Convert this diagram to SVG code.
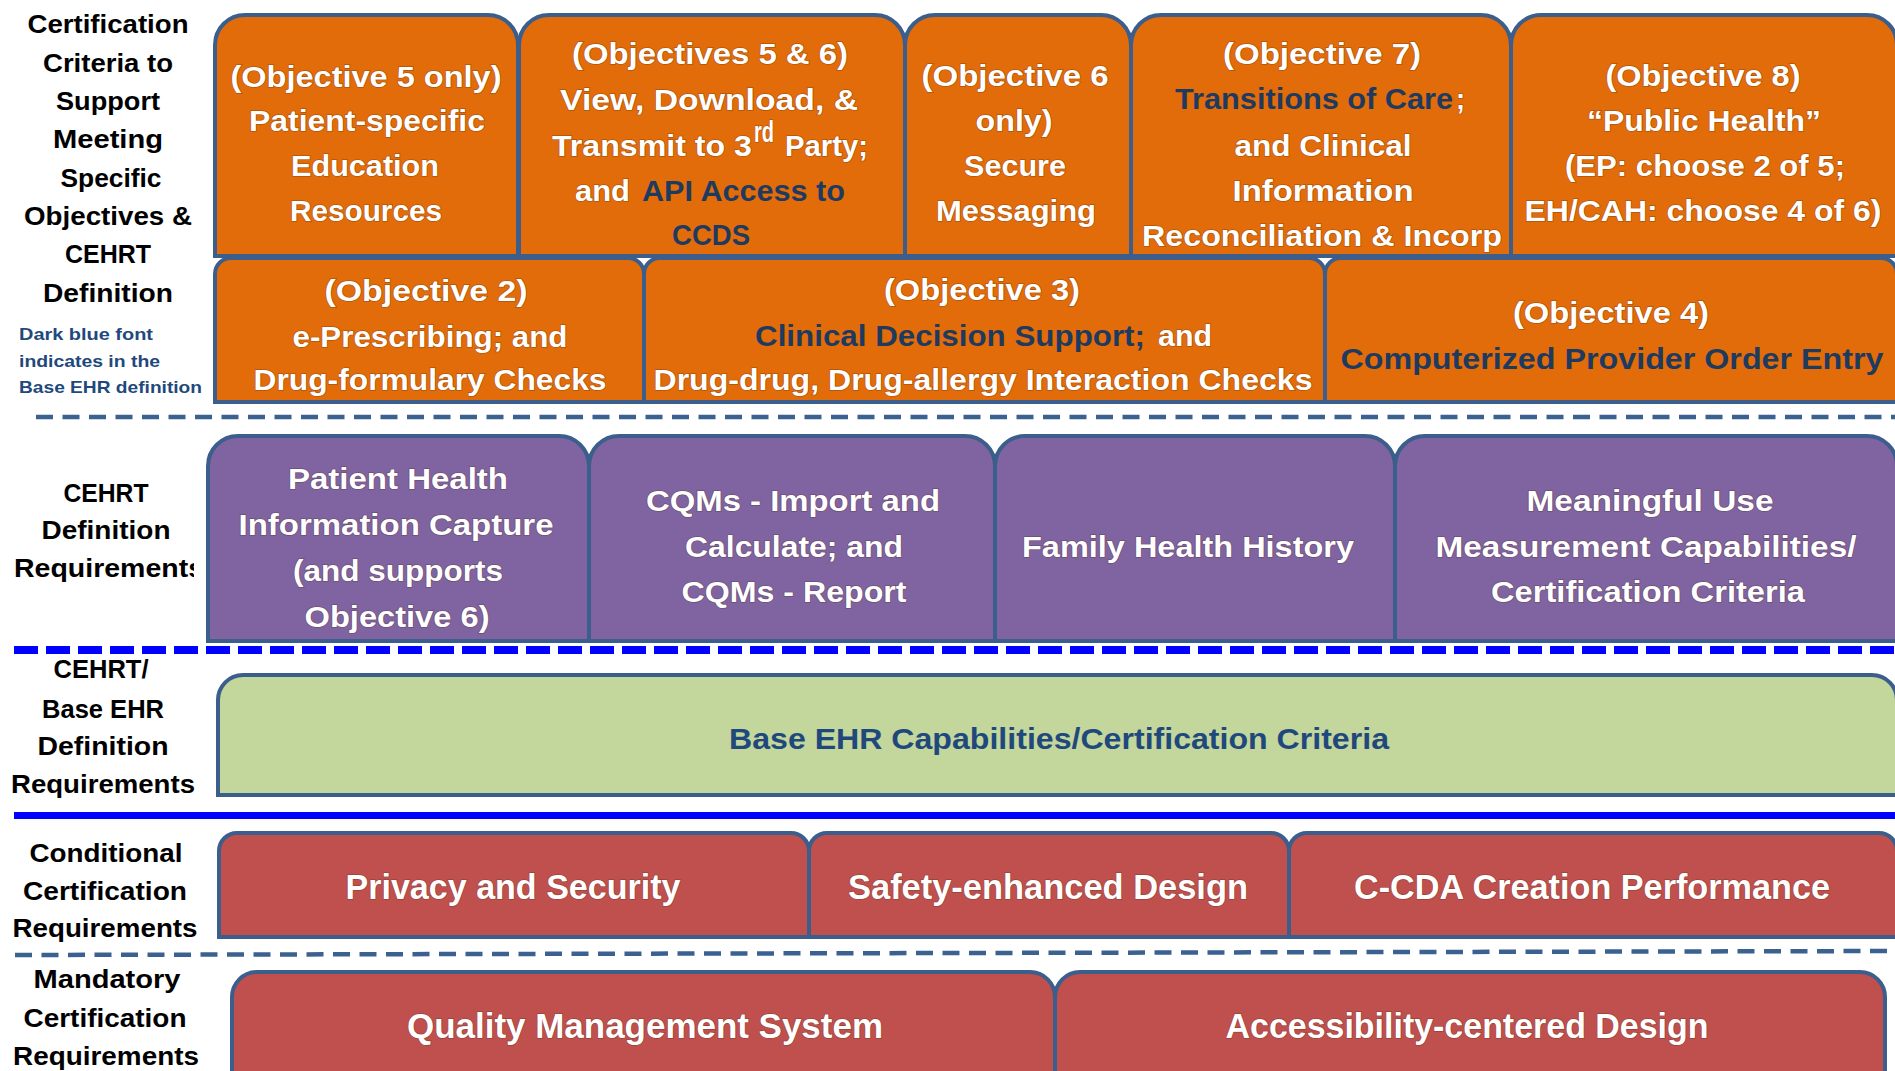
<svg xmlns="http://www.w3.org/2000/svg" width="1895" height="1071" viewBox="0 0 1895 1071">
<style>
text{font-family:"Liberation Sans",Arial,sans-serif;font-weight:bold}
.lbl{font-size:26px;fill:#000;text-anchor:middle}
.note{font-size:17px;fill:#1f497d}
.bt{font-size:29px;fill:#fff;text-anchor:middle;paint-order:stroke;stroke:#4a2a10;stroke-opacity:.35;stroke-width:1.5}
.st{text-anchor:start}
.dk{fill:#1f3a5f;stroke:none}
.big{font-size:35px}
.box{stroke:#3b5e8c;stroke-width:4}
.or{fill:#e36c0a}.pu{fill:#8064a2}.gr{fill:#c3d69b}.rd{fill:#c0504d}
.sep{fill:none}
</style>
<defs>
<clipPath id="clipReq"><rect x="0" y="540" width="194" height="60"/></clipPath>
</defs>
<rect width="1895" height="1071" fill="#fff"/>

<g id="separators">
<line class="sep" x1="36" y1="417" x2="1895" y2="417" stroke="#3a6190" stroke-width="4.5" stroke-dasharray="17 9.5"/>
<line class="sep" x1="14" y1="650" x2="1895" y2="650" stroke="#0000ff" stroke-width="8" stroke-dasharray="24 8"/>
<line class="sep" x1="14" y1="815.5" x2="1895" y2="815.5" stroke="#0000ff" stroke-width="7"/>
<line class="sep" x1="15" y1="955" x2="1895" y2="951" stroke="#3a6190" stroke-width="4.5" stroke-dasharray="17 9.5"/>
</g>

<g id="labels">
<g id="label-objectives">
<text class="lbl" x="108" y="33" textLength="161" lengthAdjust="spacingAndGlyphs">Certification</text>
<text class="lbl" x="108" y="72" textLength="130" lengthAdjust="spacingAndGlyphs">Criteria to</text>
<text class="lbl" x="108" y="110" textLength="104" lengthAdjust="spacingAndGlyphs">Support</text>
<text class="lbl" x="108" y="148" textLength="110" lengthAdjust="spacingAndGlyphs">Meeting</text>
<text class="lbl" x="111" y="187" textLength="101" lengthAdjust="spacingAndGlyphs">Specific</text>
<text class="lbl" x="108" y="225" textLength="168" lengthAdjust="spacingAndGlyphs">Objectives &amp;</text>
<text class="lbl" x="108" y="263" textLength="86" lengthAdjust="spacingAndGlyphs">CEHRT</text>
<text class="lbl" x="108" y="302" textLength="130" lengthAdjust="spacingAndGlyphs">Definition</text>
<text class="note" x="19" y="340" textLength="134" lengthAdjust="spacingAndGlyphs">Dark blue font</text>
<text class="note" x="19" y="367" textLength="141" lengthAdjust="spacingAndGlyphs">indicates in the</text>
<text class="note" x="19" y="393" textLength="183" lengthAdjust="spacingAndGlyphs">Base EHR definition</text>
</g>
<g id="label-cehrt">
<text class="lbl" x="106" y="502" textLength="85" lengthAdjust="spacingAndGlyphs">CEHRT</text>
<text class="lbl" x="106" y="539" textLength="129" lengthAdjust="spacingAndGlyphs">Definition</text>
<text class="lbl" x="109" y="577" textLength="190" lengthAdjust="spacingAndGlyphs" clip-path="url(#clipReq)">Requirements</text>
</g>
<g id="label-base">
<text class="lbl" x="101" y="678" textLength="95" lengthAdjust="spacingAndGlyphs">CEHRT/</text>
<text class="lbl" x="103" y="718" textLength="122" lengthAdjust="spacingAndGlyphs">Base EHR</text>
<text class="lbl" x="103" y="755" textLength="131" lengthAdjust="spacingAndGlyphs">Definition</text>
<text class="lbl" x="103" y="793" textLength="184" lengthAdjust="spacingAndGlyphs">Requirements</text>
</g>
<g id="label-conditional">
<text class="lbl" x="106" y="862" textLength="153" lengthAdjust="spacingAndGlyphs">Conditional</text>
<text class="lbl" x="105" y="900" textLength="164" lengthAdjust="spacingAndGlyphs">Certification</text>
<text class="lbl" x="105" y="937" textLength="185" lengthAdjust="spacingAndGlyphs">Requirements</text>
</g>
<g id="label-mandatory">
<text class="lbl" x="107" y="988" textLength="147" lengthAdjust="spacingAndGlyphs">Mandatory</text>
<text class="lbl" x="105" y="1027" textLength="163" lengthAdjust="spacingAndGlyphs">Certification</text>
<text class="lbl" x="106" y="1065" textLength="186" lengthAdjust="spacingAndGlyphs">Requirements</text>
</g>
</g>

<g id="node-obj5">
<path class="box or" d="M215,256 V45 A30 30 0 0 1 245,15 H488 A30 30 0 0 1 518,45 V256 Z"/>
<text class="bt" x="366" y="87" textLength="271" lengthAdjust="spacingAndGlyphs">(Objective 5 only)</text>
<text class="bt" x="367" y="131" textLength="236" lengthAdjust="spacingAndGlyphs">Patient-specific</text>
<text class="bt" x="365" y="176" textLength="148" lengthAdjust="spacingAndGlyphs">Education</text>
<text class="bt" x="366" y="221" textLength="152" lengthAdjust="spacingAndGlyphs">Resources</text>
</g>
<g id="node-obj56">
<path class="box or" d="M519,256 V45 A30 30 0 0 1 549,15 H875 A30 30 0 0 1 905,45 V256 Z"/>
<text class="bt" x="710" y="64" textLength="276" lengthAdjust="spacingAndGlyphs">(Objectives 5 &amp; 6)</text>
<text class="bt" x="709" y="110" textLength="298" lengthAdjust="spacingAndGlyphs">View, Download,  &amp;</text>
<text class="bt st" x="552" y="156" textLength="200" lengthAdjust="spacingAndGlyphs">Transmit  to 3</text>
<text class="bt st" x="754" y="142" font-size="17" textLength="20" lengthAdjust="spacingAndGlyphs">rd</text>
<text class="bt st" x="785" y="156" textLength="83" lengthAdjust="spacingAndGlyphs">Party;</text>
<text class="bt st" x="575" y="201" textLength="55" lengthAdjust="spacingAndGlyphs">and</text>
<text class="bt st dk" x="642" y="201" textLength="203" lengthAdjust="spacingAndGlyphs">API Access to</text>
<text class="bt dk" x="711" y="245" textLength="78" lengthAdjust="spacingAndGlyphs">CCDS</text>
</g>
<g id="node-obj6">
<path class="box or" d="M905,256 V45 A30 30 0 0 1 935,15 H1101 A30 30 0 0 1 1131,45 V256 Z"/>
<text class="bt" x="1015" y="86" textLength="187" lengthAdjust="spacingAndGlyphs">(Objective 6</text>
<text class="bt" x="1014" y="131" textLength="77" lengthAdjust="spacingAndGlyphs">only)</text>
<text class="bt" x="1015" y="176" textLength="102" lengthAdjust="spacingAndGlyphs">Secure</text>
<text class="bt" x="1016" y="221" textLength="160" lengthAdjust="spacingAndGlyphs">Messaging</text>
</g>
<g id="node-obj7">
<path class="box or" d="M1131,256 V45 A30 30 0 0 1 1161,15 H1481 A30 30 0 0 1 1511,45 V256 Z"/>
<text class="bt" x="1322" y="64" textLength="198" lengthAdjust="spacingAndGlyphs">(Objective 7)</text>
<text class="bt st dk" x="1175" y="109" textLength="278" lengthAdjust="spacingAndGlyphs">Transitions  of Care</text>
<text class="bt st" x="1456" y="109" textLength="9" lengthAdjust="spacingAndGlyphs">;</text>
<text class="bt" x="1323" y="156" textLength="177" lengthAdjust="spacingAndGlyphs">and Clinical</text>
<text class="bt" x="1323" y="201" textLength="181" lengthAdjust="spacingAndGlyphs">Information</text>
<text class="bt" x="1322" y="246" textLength="360" lengthAdjust="spacingAndGlyphs">Reconciliation &amp; Incorp</text>
</g>
<g id="node-obj8">
<path class="box or" d="M1511,256 V45 A30 30 0 0 1 1541,15 H1867 A30 30 0 0 1 1897,45 V256 Z"/>
<text class="bt" x="1703" y="86" textLength="195" lengthAdjust="spacingAndGlyphs">(Objective 8)</text>
<text class="bt" x="1704" y="131" textLength="234" lengthAdjust="spacingAndGlyphs">“Public Health”</text>
<text class="bt" x="1705" y="176" textLength="280" lengthAdjust="spacingAndGlyphs">(EP: choose  2 of 5;</text>
<text class="bt" x="1703" y="221" textLength="357" lengthAdjust="spacingAndGlyphs">EH/CAH:  choose 4 of 6)</text>
</g>

<g id="node-obj2">
<path class="box or" d="M215,402 V274 A16 16 0 0 1 231,258 H628 A16 16 0 0 1 644,274 V402 Z"/>
<text class="bt" x="426" y="301" textLength="203" lengthAdjust="spacingAndGlyphs">(Objective 2)</text>
<text class="bt" x="430" y="347" textLength="275" lengthAdjust="spacingAndGlyphs">e-Prescribing; and</text>
<text class="bt" x="430" y="390" textLength="353" lengthAdjust="spacingAndGlyphs">Drug-formulary  Checks</text>
</g>
<g id="node-obj3">
<path class="box or" d="M644,402 V274 A16 16 0 0 1 660,258 H1309 A16 16 0 0 1 1325,274 V402 Z"/>
<text class="bt" x="982" y="300" textLength="196" lengthAdjust="spacingAndGlyphs">(Objective 3)</text>
<text class="bt st dk" x="755" y="346" textLength="390" lengthAdjust="spacingAndGlyphs">Clinical Decision  Support;</text>
<text class="bt st" x="1158" y="346" textLength="54" lengthAdjust="spacingAndGlyphs">and</text>
<text class="bt" x="983" y="390" textLength="659" lengthAdjust="spacingAndGlyphs">Drug-drug,  Drug-allergy  Interaction Checks</text>
</g>
<g id="node-obj4">
<path class="box or" d="M1325,402 V274 A16 16 0 0 1 1341,258 H1881 A16 16 0 0 1 1897,274 V402 Z"/>
<text class="bt" x="1611" y="323" textLength="196" lengthAdjust="spacingAndGlyphs">(Objective 4)</text>
<text class="bt dk" x="1612" y="369" textLength="543" lengthAdjust="spacingAndGlyphs">Computerized  Provider Order Entry</text>
</g>

<g id="node-phi">
<path class="box pu" d="M208,641 V466 A30 30 0 0 1 238,436 H559 A30 30 0 0 1 589,466 V641 Z"/>
<text class="bt" x="398" y="489" textLength="220" lengthAdjust="spacingAndGlyphs">Patient Health</text>
<text class="bt" x="396" y="535" textLength="315" lengthAdjust="spacingAndGlyphs">Information  Capture</text>
<text class="bt" x="398" y="581" textLength="210" lengthAdjust="spacingAndGlyphs">(and supports</text>
<text class="bt" x="397" y="627" textLength="185" lengthAdjust="spacingAndGlyphs">Objective 6)</text>
</g>
<g id="node-cqm">
<path class="box pu" d="M589,641 V466 A30 30 0 0 1 619,436 H965 A30 30 0 0 1 995,466 V641 Z"/>
<text class="bt" x="793" y="511" textLength="294" lengthAdjust="spacingAndGlyphs">CQMs - Import and</text>
<text class="bt" x="794" y="557" textLength="218" lengthAdjust="spacingAndGlyphs">Calculate; and</text>
<text class="bt" x="794" y="602" textLength="225" lengthAdjust="spacingAndGlyphs">CQMs - Report</text>
</g>
<g id="node-fhh">
<path class="box pu" d="M995,641 V466 A30 30 0 0 1 1025,436 H1365 A30 30 0 0 1 1395,466 V641 Z"/>
<text class="bt" x="1188" y="557" textLength="332" lengthAdjust="spacingAndGlyphs">Family Health History</text>
</g>
<g id="node-mu">
<path class="box pu" d="M1395,641 V466 A30 30 0 0 1 1425,436 H1867 A30 30 0 0 1 1897,466 V641 Z"/>
<text class="bt" x="1650" y="511" textLength="247" lengthAdjust="spacingAndGlyphs">Meaningful Use</text>
<text class="bt" x="1646" y="557" textLength="421" lengthAdjust="spacingAndGlyphs">Measurement Capabilities/</text>
<text class="bt" x="1648" y="602" textLength="314" lengthAdjust="spacingAndGlyphs">Certification Criteria</text>
</g>

<g id="node-base">
<path class="box gr" d="M218,795 V700 A25 25 0 0 1 243,675 H1872 A25 25 0 0 1 1897,700 V795 Z"/>
<text x="1059" y="749" font-size="30" fill="#1f497d" text-anchor="middle" textLength="660" lengthAdjust="spacingAndGlyphs">Base EHR Capabilities/Certification Criteria</text>
</g>

<g id="node-privacy">
<path class="box rd" d="M219,937 V851 A18 18 0 0 1 237,833 H791 A18 18 0 0 1 809,851 V937 Z"/>
<text class="bt big" x="513" y="899" textLength="335" lengthAdjust="spacingAndGlyphs">Privacy and Security</text>
</g>
<g id="node-safety">
<path class="box rd" d="M809,937 V851 A18 18 0 0 1 827,833 H1271 A18 18 0 0 1 1289,851 V937 Z"/>
<text class="bt big" x="1048" y="899" textLength="400" lengthAdjust="spacingAndGlyphs">Safety-enhanced Design</text>
</g>
<g id="node-ccda">
<path class="box rd" d="M1289,937 V851 A18 18 0 0 1 1307,833 H1879 A18 18 0 0 1 1897,851 V937 Z"/>
<text class="bt big" x="1592" y="899" textLength="476" lengthAdjust="spacingAndGlyphs">C-CDA Creation Performance</text>
</g>

<g id="node-qms">
<path class="box rd" d="M232,1080 V997 A25 25 0 0 1 257,972 H1030 A25 25 0 0 1 1055,997 V1080 Z"/>
<text class="bt big" x="645" y="1038" textLength="476" lengthAdjust="spacingAndGlyphs">Quality Management System</text>
</g>
<g id="node-access">
<path class="box rd" d="M1055,1080 V997 A25 25 0 0 1 1080,972 H1860 A25 25 0 0 1 1885,997 V1080 Z"/>
<text class="bt big" x="1467" y="1038" textLength="483" lengthAdjust="spacingAndGlyphs">Accessibility-centered Design</text>
</g>
</svg>
